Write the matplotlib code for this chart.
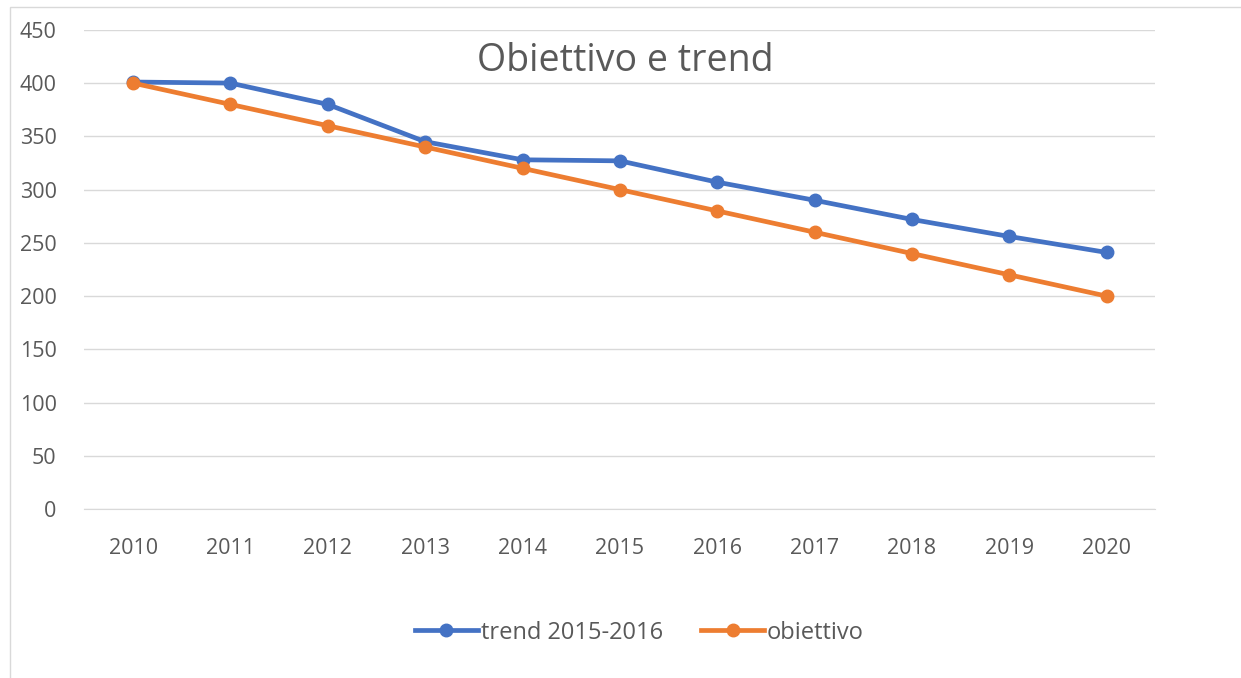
import matplotlib
matplotlib.use("Agg")
import matplotlib.pyplot as plt
from matplotlib.patches import Rectangle

years = ['2010', '2011', '2012', '2013', '2014', '2015', '2016', '2017', '2018', '2019', '2020']
trend = [401, 400, 380, 345, 328, 327, 307, 290, 272, 256, 241]
obiettivo = [400, 380, 360, 340, 320, 300, 280, 260, 240, 220, 200]
yticks = [0, 50, 100, 150, 200, 250, 300, 350, 400, 450]

plt.rcParams['font.family'] = ['Open Sans', 'DejaVu Sans']
grey = '#595959'

fig = plt.figure(figsize=(12.41, 6.78), dpi=100)
ax = fig.add_axes([0.068, 0.249, 0.863, 0.707])

x = range(len(years))
ax.plot(x, trend, color='#4472c4', lw=3.4, marker='o', ms=9, label='trend 2015-2016', zorder=3)
ax.plot(x, obiettivo, color='#ed7d31', lw=3.4, marker='o', ms=9, label='obiettivo', zorder=3)

ax.set_xlim(-0.5, len(years) - 0.5)
ax.set_ylim(0, 450)
ax.set_yticks(yticks)
ax.set_xticks(list(x))
ax.set_xticklabels(years)
ax.grid(axis='y', color='#d9d9d9', lw=1)
ax.set_axisbelow(True)
for s in ax.spines.values():
    s.set_visible(False)
ax.spines['bottom'].set_visible(True)
ax.spines['bottom'].set_color('#d9d9d9')
ax.tick_params(length=0, labelsize=15.5, labelcolor=grey)
ax.tick_params(axis='x', pad=21)
ax.tick_params(axis='y', pad=20)

ax.text(0.505, 0.935, 'Obiettivo e trend', transform=ax.transAxes, ha='center', va='center',
        fontsize=27, color=grey)

fig.legend(loc='center', bbox_to_anchor=(0.515, 0.067), ncol=2, frameon=False,
           fontsize=17, labelcolor=grey, handlelength=2.7, handletextpad=0.1, columnspacing=1.6)

fig.patches.append(Rectangle((0.008, -0.01), 1.0, 0.999, transform=fig.transFigure,
                             fill=False, edgecolor='#d9d9d9', lw=1))

fig.savefig('out.png', dpi=100)
